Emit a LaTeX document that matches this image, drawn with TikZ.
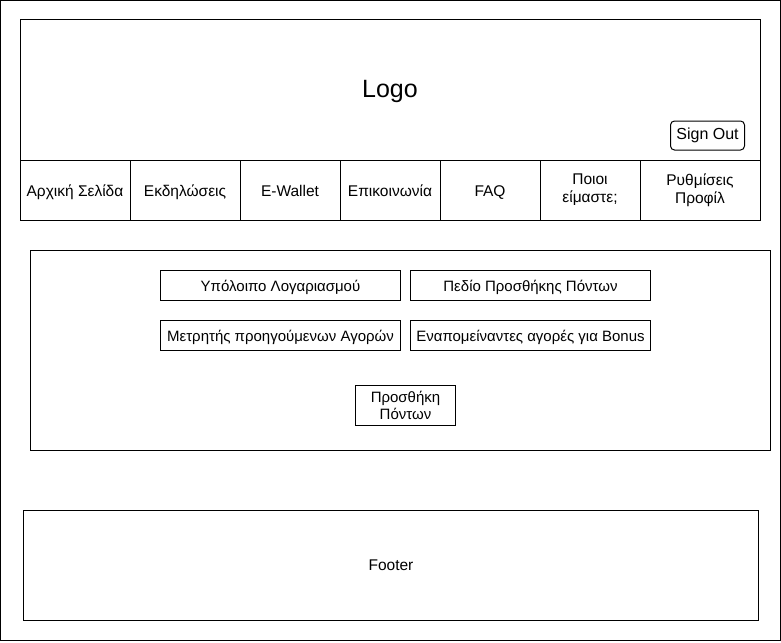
\documentclass[tikz,border=0pt]{standalone}
\usepackage{fontspec}
\setmainfont{Liberation Sans}
\usetikzlibrary{positioning}

\tikzset{
    box/.style={draw, line width=1pt, inner sep=0pt, outer sep=0pt},
    cell/.style={box, minimum height=60pt, text height=12pt, text depth=0pt, font=\fontsize{15.5}{18}\selectfont},
    twoline/.style={box, minimum height=60pt, align=center, font=\fontsize{15.5}{18}\selectfont},
    field/.style={box, minimum width=240pt, minimum height=30pt, text height=11pt, text depth=0pt, font=\fontsize{15}{17}\selectfont}
}

\begin{document}
\begin{tikzpicture}[x=1pt, y=-1pt]
                        \useasboundingbox (0,0) rectangle (781,642);
                        \node[box, minimum width=779.5pt, minimum height=639.5pt] (frame) at (390.25,320.25) {};

                        % header
                        \node[box, minimum width=740pt, minimum height=140pt] (header) at (390,90) {};
                        \node[font=\fontsize{25}{29}\selectfont] (logo) at (390,91.5) {Logo};
                        \node[box, rounded corners=4pt, minimum width=74pt, minimum height=29pt, font=\fontsize{16}{18}\selectfont] (signout) at (707.5,135.5) {Sign Out};

                        % menu
                        \node[cell, minimum width=110pt] (home) at (75,190) {Αρχική Σελίδα};
                        \node[cell, minimum width=110pt, right=0pt of home] (events) {Εκδηλώσεις};
                        \node[cell, minimum width=100pt, right=0pt of events] (wallet) {E-Wallet};
                        \node[cell, minimum width=100pt, right=0pt of wallet] (contact) {Επικοινωνία};
                        \node[cell, minimum width=100pt, right=0pt of contact] (faq) {FAQ};
                        \node[twoline, minimum width=100pt, right=0pt of faq] (about) {Ποιοι\\είμαστε;};
                        \node[twoline, minimum width=120pt, right=0pt of about] (profile) {Ρυθμίσεις\\Προφίλ};

                        % e-wallet panel
                        \node[box, minimum width=740pt, minimum height=200pt] (panel) at (400,350) {};
                        \node[field] (balance) at (280.5,285.5) {Υπόλοιπο Λογαριασμού};
                        \node[field, right=10pt of balance] (input) {Πεδίο Προσθήκης Πόντων};
                        \node[field, below=20pt of balance] (counter) {Μετρητής προηγούμενων Αγορών};
                        \node[field, right=10pt of counter] (bonus) {Εναπομείναντες αγορές για Bonus};
                        \node[box, minimum width=100pt, minimum height=40pt, align=center, font=\fontsize{15}{17}\selectfont] (add) at (405.5,405.5) {Προσθήκη\\Πόντων};

                        % footer
                        \node[box, minimum width=735pt, minimum height=110pt, font=\fontsize{15.5}{18}\selectfont] (footer) at (391,565) {Footer};
                    \end{tikzpicture}
\end{document}
